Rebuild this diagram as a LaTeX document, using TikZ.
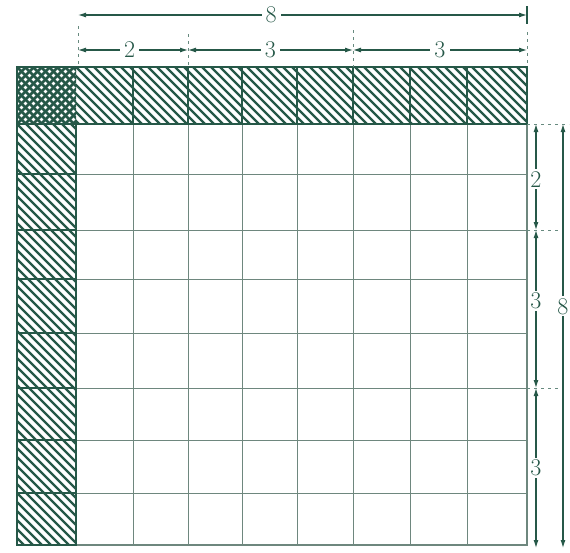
\documentclass[tikz,border=0pt]{standalone}
\usetikzlibrary{arrows.meta}
\definecolor{ink}{RGB}{38,88,72}
\definecolor{gridc}{RGB}{110,135,126}
\begin{document}
\begin{tikzpicture}[x=1pt,y=-1pt,
  outline/.style={draw=ink,line width=1.6pt},
  gridline/.style={draw=gridc,line width=1pt},
  hatch/.style={draw=ink,line width=2.4pt},
  dim/.style={draw=ink,line width=1.1pt},
  bitip/.style={{Latex[length=8pt,width=5pt]}-{Latex[length=8pt,width=5pt]}},
  lab/.style={fill=white,inner sep=4pt,text=ink,font=\fontsize{24}{24}\selectfont},
  ext/.style={draw=ink!70,line width=0.8pt,dash pattern=on 3pt off 4pt}]
\useasboundingbox (0,0) rectangle (570,552);
% ---- corner cross-hatch
\begin{scope}
  \clip (17,67) rectangle (76,124);
  \foreach \s in {-56,-48,...,80} {
    \draw[hatch,line width=2.8pt] (17+\s,67) -- ++(60,60);
    \draw[hatch,line width=2.8pt] (17+\s,124) -- ++(60,-60);
  }
\end{scope}
% ---- top strip hatch
\begin{scope}
  \clip (76,67) rectangle (527,124);
  \foreach \s in {13,22,...,530} \draw[hatch] (\s,67) -- ++(60,60);
\end{scope}
% ---- left strip hatch
\begin{scope}
  \clip (17,124) rectangle (76,545);
  \foreach \t in {61,70,...,545} \draw[hatch] (17,\t) -- ++(62,62);
\end{scope}
% ---- body grid
\foreach \x in {133,188,242,297,353,410,467} \draw[gridline] (\x,124) -- (\x,545);
\foreach \y in {174,230,279,333,388,440,493} \draw[gridline] (76,\y) -- (527,\y);
\draw[gridline,line width=1.3pt] (527,124) -- (527,545) -- (76,545);
% ---- strip outlines and separators
\foreach \x in {133,188,242,297,353,410,467} \draw[outline,line width=1.3pt] (\x,67) -- (\x,124);
\foreach \y in {174,230,279,333,388,440,493} \draw[outline,line width=1.3pt] (17,\y) -- (76,\y);
\draw[outline] (17,67) rectangle (527,124);
\draw[outline] (17,124) rectangle (76,545);
% ---- top dimensions
\coordinate (ta) at (78,15);
\coordinate (tb) at (527,15);
\draw[dim,bitip] (ta) -- node[lab,pos=0.43] (l8t) {8} (tb);
\coordinate (ua) at (78,50);
\coordinate (ub) at (188,50);
\coordinate (uc) at (353,50);
\coordinate (ud) at (527,50);
\draw[dim,bitip] (ua) -- node[lab,pos=0.47] (l2t) {2} (ub);
\draw[dim,bitip] (ub) -- node[lab,pos=0.5] (l3t) {3} (uc);
\draw[dim,bitip] (uc) -- node[lab,pos=0.5] (l3u) {3} (ud);
\draw[ext] (78,26) -- (78,67);
\draw[ext] (188,34) -- (188,67);
\draw[ext] (353,30) -- (353,67);
\draw[dim] (527,6) -- (527,24);
\draw[ext] (527,32) -- (527,67);
% ---- right dimensions
\coordinate (ra) at (536,124);
\coordinate (rb) at (536,230);
\coordinate (rc) at (536,388);
\coordinate (rd) at (536,548);
\draw[dim,bitip] (ra) -- node[lab,pos=0.52,inner sep=2pt] (l2r) {2} (rb);
\draw[dim,bitip] (rb) -- node[lab,pos=0.45,inner sep=2pt] (l3r) {3} (rc);
\draw[dim,bitip] (rc) -- node[lab,pos=0.5,inner sep=2pt] (l3s) {3} (rd);
\coordinate (sa) at (563,124);
\coordinate (sb) at (563,548);
\draw[dim,bitip] (sa) -- node[lab,pos=0.43,inner sep=2pt] (l8r) {8} (sb);
\draw[ext] (527,124) -- (569,124);
\draw[ext] (527,230) -- (558,230);
\draw[ext] (527,388) -- (558,388);
\end{tikzpicture}
\end{document}
